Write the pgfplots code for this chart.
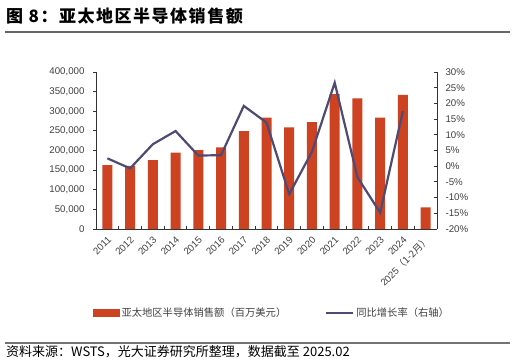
\documentclass[border=0pt]{standalone}
\usepackage{fontspec}
\setmainfont{Liberation Sans}
\newfontfamily\cjk{Noto Sans CJK SC}
\newfontfamily\cjktitle{Noto Sans CJK SC}[LetterSpace=9]
\usepackage{pgfplots}
\pgfplotsset{compat=1.18}
\definecolor{barc}{HTML}{CD4322}
\definecolor{linec}{HTML}{4E4A74}
\definecolor{txt}{HTML}{404040}
\begin{document}
\begin{tikzpicture}
\useasboundingbox (0bp,0bp) rectangle (516bp,363bp);
\node[anchor=west, inner sep=0, font=\cjktitle\bfseries\fontsize{17bp}{19bp}\selectfont] at (6bp,347bp) {图 8：亚太地区半导体销售额};
\draw[line width=1.3bp, color=black!60] (5bp,331bp) -- (510bp,331bp);
\draw[line width=1.3bp, color=black!55] (5bp,20bp) -- (510bp,20bp);
\node[anchor=west, inner sep=0, font=\cjk\fontsize{13bp}{15bp}\selectfont] at (6bp,11bp) {资料来源：WSTS，光大证券研究所整理，数据截至 2025.02};

\begin{axis}[at={(96bp,134bp)}, anchor=south west, scale only axis, width=341bp, height=157bp,
  xmin=-0.5, xmax=14.5, ymin=0, ymax=400000,
  axis x line*=bottom, axis y line*=left,
  axis line style={black!80, line width=0.9bp},
  tick align=outside, major tick length=3bp,
  scaled y ticks=false,
  ytick={0,50000,...,400000},
  xtick={0,...,14},
  xticklabels={2011,2012,2013,2014,2015,2016,2017,2018,2019,2020,2021,2022,2023,2024,{2025\makebox[9.7bp][r]{\cjk（}{\cjk 1-2月}\makebox[9.7bp][l]{\cjk）}}},
  x tick style={draw=none},
  y tick style={black!80, line width=0.9bp},
  tick label style={font=\fontsize{9.7bp}{11bp}\selectfont, text=txt},
  xticklabel style={rotate=45, anchor=east, yshift=-6bp, xshift=0.5bp},
  yticklabel style={xshift=-5bp, /pgf/number format/fixed, /pgf/number format/precision=0, /pgf/number format/1000 sep={,}},
  /pgf/number format/assume math mode=true,
  clip=false]
\addplot[ybar, bar width=10bp, bar shift=0pt, fill=barc, draw=none] coordinates {
(0,163000) (1,161000) (2,175700) (3,194400) (4,201200) (5,208000) (6,249600)
(7,283600) (8,259000) (9,272500) (10,343800) (11,333000) (12,283600) (13,342000) (14,55200)};
\end{axis}

\begin{axis}[at={(96bp,134bp)}, anchor=south west, scale only axis, width=341bp, height=157bp,
  xmin=-0.5, xmax=14.5, ymin=-20, ymax=30,
  axis x line*=bottom, axis y line*=right,
  axis line style={black!80, line width=0.9bp},
  tick align=inside, major tick length=3bp,
  xtick={0.5,1.5,...,13.5}, xticklabels={},
  tick style={black!80, line width=0.9bp},
  ytick={-20,-15,...,30},
  yticklabel={\pgfmathprintnumber{\tick}\%},
  yticklabel style={xshift=5bp, /pgf/number format/fixed},
  tick label style={font=\fontsize{9.7bp}{11bp}\selectfont, text=txt},
  /pgf/number format/assume math mode=true,
  legend columns=2,
  legend cell align=left,
  legend style={at={(-0.009,-0.535)}, anchor=west, draw=none, fill=none, inner sep=0pt,
    font=\cjk\fontsize{10.3bp}{12bp}\selectfont, text=txt,
    /tikz/every even column/.append style={column sep=37bp}},
  clip=false]
\addlegendimage{legend image code/.code={\fill[barc] (0bp,-3.3bp) rectangle (26bp,3.3bp);}}
\addlegendentry{亚太地区半导体销售额（百万美元）}
\addplot[linec, line width=2.2bp, mark=none,
  legend image code/.code={\draw[linec, line width=2bp] (0bp,0bp) -- (27bp,0bp);}] coordinates {
(0,2.5) (1,-0.7) (2,7.0) (3,11.2) (4,3.4) (5,3.5) (6,19.2) (7,13.9)
(8,-8.9) (9,4.6) (10,26.6) (11,-3.5) (12,-14.8) (13,17.6)};
\addlegendentry{同比增长率（右轴）}
\end{axis}
\end{tikzpicture}
\end{document}
